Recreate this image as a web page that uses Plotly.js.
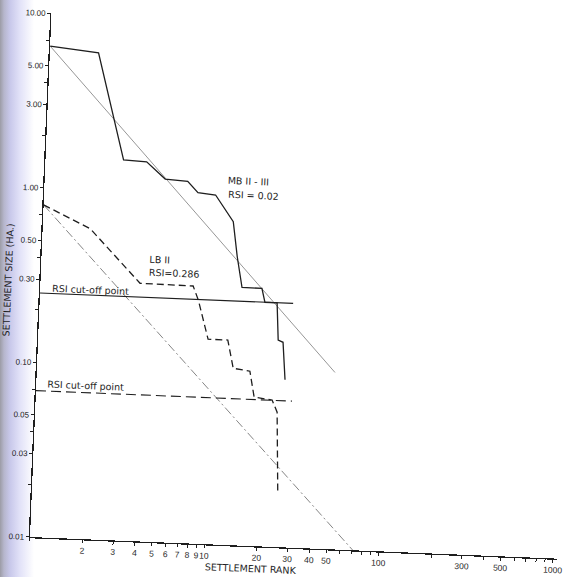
<!DOCTYPE html>
<html>
<head>
<meta charset="utf-8">
<script src="https://cdn.plot.ly/plotly-3.0.1.min.js"></script>
<style>
  html, body { margin: 0; padding: 0; width: 563px; height: 577px; overflow: hidden; background: #ffffff; position: relative; }
  #scanedge { position: absolute; left: 0; top: 0; width: 40px; height: 577px;
    background: linear-gradient(to right, #9c9ca6 0px, #b6b6cc 4px, #c8c8ea 10px, #e2e2f8 20px, rgba(255,255,255,0) 34px); }
  #chart { position: absolute; left: -40px; top: 0; width: 610px; height: 610px;
    transform-origin: 70px 537px; transform: rotate(2.35deg); }
</style>
</head>
<body>
<div id="scanedge"></div>
<div id="chart"></div>
<script>
// ---- data ----
const mbRank = [1, 1.9, 2.8, 3.8, 4.9, 6.6, 7.6, 9.6, 12.3, 13.2, 14.3, 18.6, 19.5, 22.9, 23.7, 25.3, 26.5];
const mbSize = [6.5, 6.1, 1.51, 1.49, 1.20, 1.18, 1.02, 1.00, 0.71, 0.45, 0.30, 0.30, 0.25, 0.25, 0.153, 0.149, 0.091];

const lbRank = [1, 1.87, 3.72, 7.5, 8.1, 9.4, 12.2, 13.3, 16.6, 17.8, 22.6, 24.3, 25.6];
const lbSize = [0.80, 0.60, 0.30, 0.298, 0.248, 0.149, 0.149, 0.103, 0.100, 0.0713, 0.0692, 0.0592, 0.0204];

const mbFitRank = [1, 51];
const mbFitSize = [6.5, 0.103];
const lbFitRank = [1, 71];
const lbFitSize = [0.80, 0.01];

const mbCutRank = [1, 28.3];
const mbCutSize = [0.25, 0.25];
const lbCutRank = [1, 29.4];
const lbCutSize = [0.069, 0.069];

const xTickVals = [1,2,3,4,5,6,7,8,9,10,20,30,40,50,60,70,80,90,100,200,300,400,500,600,700,800,900,1000];
const xTickText = ["","2","3","4","5","6","7","8","9","10","20","30","40","50","","","","","100","","300","","500","","","","","1000"];
const yTickVals = [0.01,0.02,0.03,0.04,0.05,0.07,0.1,0.2,0.3,0.4,0.5,0.7,1,2,3,4,5,7,10];
const yTickText = ["0.01","","0.03","","0.05","","0.10","","0.30","","0.50","","1.00","","3.00","","5.00","","10.00"];

const mbLabel = ["MB II - III", "RSI = 0.02"];
const lbLabel = ["LB II", "RSI=0.286"];
const cutLabel = "RSI cut-off point";
const xTitle = "SETTLEMENT RANK";
const yTitle = "SETTLEMENT SIZE (HA.)";

// ---- traces ----
const ink = "#1e1e1e";
const traces = [
  {x: mbFitRank, y: mbFitSize, mode: "lines", line: {color: "#8c8c8c", width: 0.9}, hoverinfo: "skip"},
  {x: lbFitRank, y: lbFitSize, mode: "lines", line: {color: "#7a7a7a", width: 0.9, dash: "9px,3px,2px,3px"}, hoverinfo: "skip"},
  {x: mbCutRank, y: mbCutSize, mode: "lines", line: {color: ink, width: 1.1}, hoverinfo: "skip"},
  {x: lbCutRank, y: lbCutSize, mode: "lines", line: {color: ink, width: 1.1, dash: "10px,5px"}, hoverinfo: "skip"},
  {x: mbRank, y: mbSize, mode: "lines", line: {color: ink, width: 1.3}},
  {x: lbRank, y: lbSize, mode: "lines", line: {color: ink, width: 1.3, dash: "7px,4px"}}
];

const txtFont = {family: "DejaVu Sans, Liberation Sans, sans-serif", size: 9.5, color: ink};

const annotations = [
  {x: 1.04, y: 0.088, xref: "x", yref: "y", text: mbLabel[0], showarrow: false, xanchor: "left", yanchor: "middle", font: txtFont},
  {x: 1.043, y: 0.008, xref: "x", yref: "y", text: mbLabel[1], showarrow: false, xanchor: "left", yanchor: "middle", font: txtFont},
  {x: 0.606, y: -0.382, xref: "x", yref: "y", text: lbLabel[0], showarrow: false, xanchor: "left", yanchor: "middle", font: txtFont},
  {x: 0.609, y: -0.456, xref: "x", yref: "y", text: lbLabel[1], showarrow: false, xanchor: "left", yanchor: "middle", font: txtFont},
  {x: 0.057, y: -0.570, xref: "x", yref: "y", text: cutLabel, showarrow: false, xanchor: "left", yanchor: "middle", font: txtFont},
  {x: 0.051, y: -1.121, xref: "x", yref: "y", text: cutLabel, showarrow: false, xanchor: "left", yanchor: "middle", font: txtFont},
  {x: 1.27, y: -0.042, xref: "x", yref: "paper", text: xTitle, showarrow: false, xanchor: "center", yanchor: "middle", font: {family: "DejaVu Sans, sans-serif", size: 9.5, color: ink}},
  {x: -0.062, y: 0.488, xref: "paper", yref: "paper", text: yTitle, showarrow: false, textangle: -90, xanchor: "center", yanchor: "middle", font: {family: "DejaVu Sans, sans-serif", size: 9.5, color: ink}}
];

const layout = {
  width: 610, height: 610,
  margin: {l: 70, r: 13, t: 13, b: 73, pad: 0},
  paper_bgcolor: "rgba(0,0,0,0)",
  plot_bgcolor: "rgba(0,0,0,0)",
  showlegend: false,
  xaxis: {
    type: "log", range: [0, 3.02], showgrid: false, zeroline: false,
    showline: true, linecolor: ink, linewidth: 1.3,
    ticks: "outside", ticklen: 3, tickwidth: 1, tickcolor: ink,
    tickmode: "array", tickvals: xTickVals, ticktext: xTickText, tickangle: 0,
    tickfont: {family: "Liberation Sans, sans-serif", size: 8.5, color: ink}
  },
  yaxis: {
    type: "log", range: [-2, 1], showgrid: false, zeroline: false,
    showline: true, linecolor: ink, linewidth: 1.3,
    ticks: "outside", ticklen: 3, tickwidth: 1, tickcolor: ink,
    tickmode: "array", tickvals: yTickVals, ticktext: yTickText,
    tickfont: {family: "Liberation Sans Narrow, Liberation Sans, sans-serif", size: 8, color: ink}
  },
  annotations: annotations
};

Plotly.newPlot("chart", traces, layout, {displayModeBar: false, staticPlot: true});
</script>
</body>
</html>
